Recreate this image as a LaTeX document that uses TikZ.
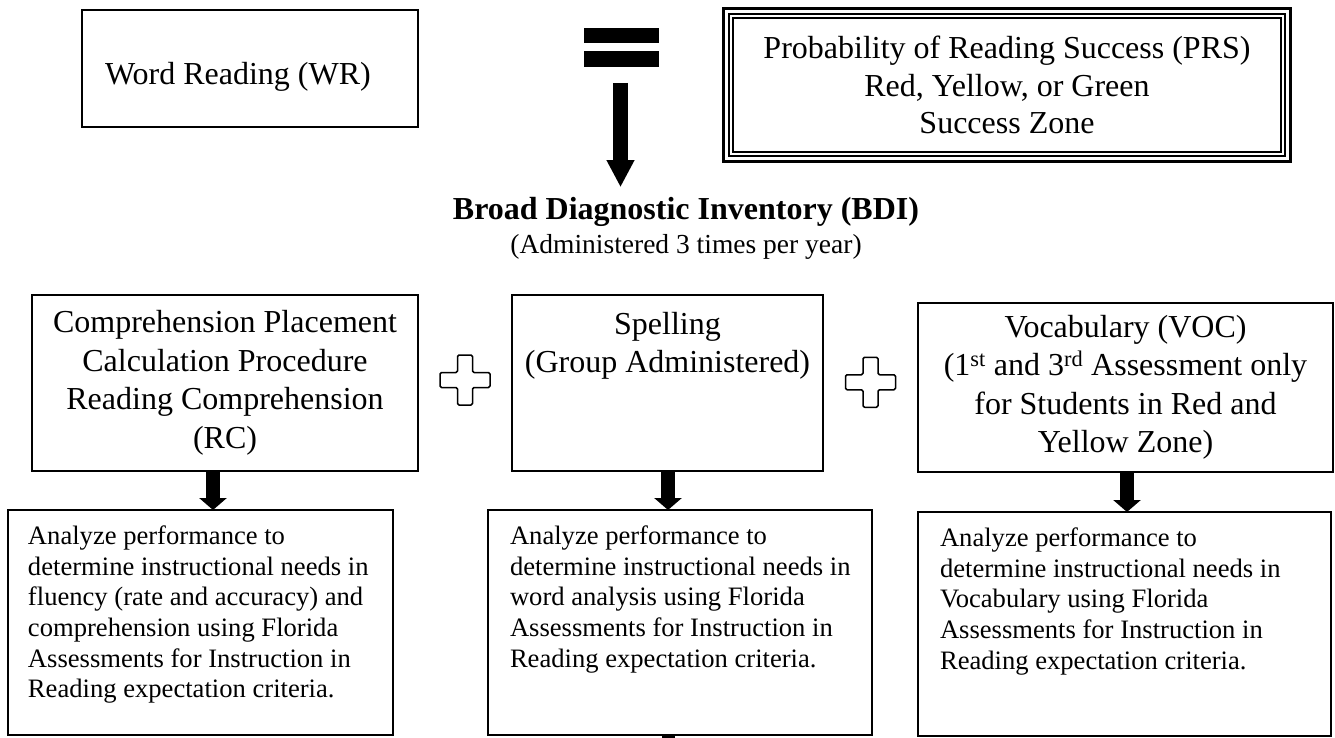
\documentclass[tikz,border=0pt]{standalone}
\usepackage{fontspec}
\setmainfont{Liberation Serif}
\usetikzlibrary{arrows.meta,calc}
\begin{document}
\begin{tikzpicture}[x=1pt,y=-1pt,
  frame/.style={draw=black, line width=1.5pt, inner sep=0pt, outer sep=0pt},
  bigfont/.style={font=\fontsize{32}{37.5}\selectfont},
  midfont/.style={font=\fontsize{32}{38.5}\selectfont},
  smallfont/.style={font=\fontsize{26.6}{30.6}\selectfont},
  blockarrow/.style={line width=14pt, -{Triangle[width=27pt,length=12pt]}},
  plussign/.style={draw=black, fill=white, line width=1.5pt, rounded corners=1.5pt, line join=round},
  pics/plussym/.style={code={\draw[plussign] (-7.5,-25) -- (7.5,-25) -- (7.5,-7.5) -- (25,-7.5) -- (25,7.5) -- (7.5,7.5) -- (7.5,25) -- (-7.5,25) -- (-7.5,7.5) -- (-25,7.5) -- (-25,-7.5) -- (-7.5,-7.5) -- cycle;}}
]
\fill[white] (0,0) rectangle (1335,738);
\useasboundingbox (0,0) rectangle (1335,738);

% top row
\node[frame, bigfont] (wr) at (250,68.5) {\parbox[c][117pt][t]{336pt}{\raggedright\leftskip=23pt\vspace*{52pt}Word Reading (WR)}};

\node[frame, line width=3pt, minimum width=567pt, minimum height=153pt, align=center, bigfont] (prs) at (1007,85) {Probability of Reading Success (PRS)\\Red, Yellow, or Green\\Success Zone};
\draw[line width=1.1pt] ($(prs.north west)+(5.5,5.5)$) rectangle ($(prs.south east)-(5.5,5.5)$);
\draw[line width=1.1pt] ($(prs.north west)+(9.5,9.5)$) rectangle ($(prs.south east)-(9.5,9.5)$);

\node[inner sep=0pt, outer sep=0pt, minimum width=75pt, minimum height=39pt] (eq) at (621.5,47.5) {};
\fill (eq.north west) rectangle ($(eq.north east)+(0,15)$);
\fill ($(eq.south west)-(0,16)$) rectangle (eq.south east);

\node[font=\fontsize{32}{36}\selectfont\bfseries, inner sep=0pt] (bdi) at (686,212) {Broad Diagnostic Inventory (BDI)};
\node[font=\fontsize{27.5}{32}\selectfont, inner sep=0pt] (sub) at (686,247) {(Administered 3 times per year)};

\coordinate (ax) at (620.5,0);
\draw[line width=15pt, -{Triangle[width=26pt,length=27pt]}, shorten <=16pt, shorten >=10pt] (eq.south -| ax) -- (bdi.north -| ax);

% second row
\node[frame, midfont] (rc) at (225,383) {\parbox[c][176pt][c]{386pt}{\centering Comprehension Placement\\Calculation Procedure\\Reading Comprehension\\(RC)}};
\node[frame, midfont] (sp) at (667.5,383) {\parbox[c][176pt][t]{311pt}{\centering\vspace*{17pt}Spelling\\(Group Administered)}};
\node[frame, midfont] (voc) at (1125.5,387.5) {\parbox[c][169pt][c]{415pt}{\centering Vocabulary (VOC)\\(1\textsuperscript{st} and 3\textsuperscript{rd} Assessment only\\for Students in Red and\\Yellow Zone)}};

\coordinate (p1) at ($(rc.east)!0.5!(sp.west)+(0,-3)$);
\coordinate (p2) at ($(sp.east)!0.5!(voc.west)+(0,-3)$);
\pic at (p1) {plussym};
\pic at (p2) {plussym};

% bottom row
\node[frame, smallfont] (an1) at (200.5,622.5) {\parbox[c][225pt][t]{385pt}{\raggedright\leftskip=20pt\vspace*{16pt}Analyze performance to\\determine instructional needs in\\fluency (rate and accuracy) and\\comprehension using Florida\\Assessments for Instruction in\\Reading expectation criteria.}};
\node[frame, smallfont] (an2) at (680,622.5) {\parbox[c][225pt][t]{384pt}{\raggedright\leftskip=22pt\vspace*{16pt}Analyze performance to\\determine instructional needs in\\word analysis using Florida\\Assessments for Instruction in\\Reading expectation criteria.}};
\node[frame, smallfont] (an3) at (1124.5,624) {\parbox[c][224pt][t]{413pt}{\raggedright\leftskip=22pt\vspace*{16pt}Analyze performance to\\determine instructional needs in\\Vocabulary using Florida\\Assessments for Instruction in\\Reading expectation criteria.}};

\coordinate (lx) at (213,0);
\coordinate (mx) at (668,0);
\coordinate (rx) at (1127,0);
\coordinate (stub) at (668,750);
\draw[blockarrow] (rc.south -| lx) -- (an1.north -| lx);
\draw[blockarrow] (sp.south -| mx) -- (an2.north -| mx);
\draw[blockarrow] (voc.south -| rx) -- (an3.north -| rx);
\draw[line width=13pt] (an2.south -| mx) -- (stub);
\end{tikzpicture}
\end{document}
